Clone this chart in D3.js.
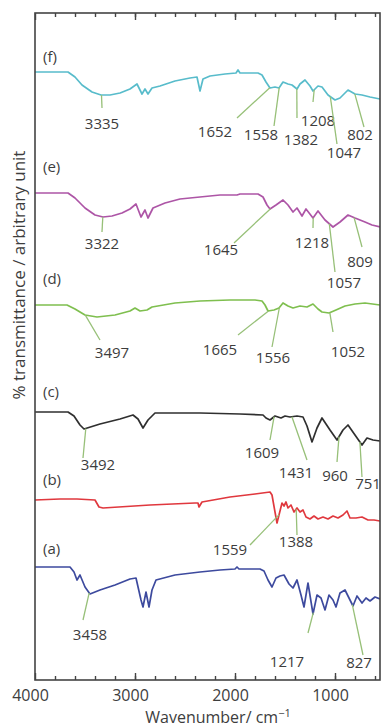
<!DOCTYPE html>
<html>
<head>
<meta charset="utf-8">
<script src="https://cdn.jsdelivr.net/npm/d3@7"></script>
<style>
  body { margin: 0; background: #fff; }
  svg { display: block; }
  text { font-family: "Open Sans", sans-serif; fill: #3d3d3d; }
</style>
</head>
<body>
<svg id="chart" width="382" height="728"></svg>
<script>
// FTIR spectra: wavenumber (cm-1) against relative transmittance (arbitrary units).
// Each spectrum is listed as [wavenumber, transmittance relative to its own baseline].

const seriesNames = ["(f)", "(e)", "(d)", "(c)", "(b)", "(a)"];
const seriesColors = ["#58bccb", "#ad55a6", "#7fbf4f", "#2f2f2f", "#e0383e", "#3d4a9e"];
const seriesOffsets = [608, 487, 375, 268, 180, 113];
const nameLevels = [10, 21, 21, 15, 15, 13];

const spectrumF = [
  [4000,0],[3670,0],[3600,-5],[3530,-13],[3430,-20],[3340,-23],[3250,-23],[3150,-21],
  [3050,-17],[2980,-12],[2930,-22],[2900,-17],[2870,-22],[2830,-16],[2750,-14],[2600,-9],
  [2450,-6],[2380,-5],[2350,-19],[2320,-7],[2250,-4],[2100,-2],[1990,-1],[1970,2],[1950,-1],
  [1770,-1],[1730,-3],[1690,-10],[1650,-16],[1600,-15],[1560,-16],[1520,-10],[1470,-12],
  [1430,-13],[1380,-17],[1350,-12],[1300,-8],[1250,-14],[1220,-19],[1170,-14],[1130,-15],
  [1070,-23],[1000,-28],[950,-26],[870,-18],[800,-22],[730,-23],[650,-25],[550,-27]
];
const spectrumE = [
  [4000,0],[3670,0],[3600,-5],[3500,-15],[3400,-22],[3320,-24],[3230,-23],[3130,-20],
  [3050,-16],[2990,-11],[2940,-24],[2900,-17],[2870,-25],[2820,-15],[2700,-10],[2550,-6],
  [2350,-4],[2150,-2],[1980,-2],[1950,-1],[1770,-1],[1720,-4],[1680,-12],[1650,-16],
  [1590,-12],[1520,-7],[1470,-12],[1420,-19],[1380,-15],[1330,-23],[1290,-16],[1220,-25],
  [1170,-18],[1100,-27],[1020,-34],[950,-29],[870,-22],[800,-25],[700,-29],[630,-32],[550,-34]
];
const spectrumD = [
  [4000,0],[3680,0],[3600,-4],[3500,-10],[3380,-12],[3200,-10],[3050,-6],[3000,-3],
  [2950,-6],[2880,-5],[2830,-2],[2600,2],[2350,4],[2050,5],[1800,5],[1730,4],[1700,0],
  [1670,-6],[1610,-5],[1560,-3],[1520,2],[1470,-1],[1420,-3],[1350,-1],[1280,-2],[1220,1],
  [1170,-4],[1130,-7],[1060,-8],[990,-5],[900,-1],[800,1],[700,2],[550,0]
];
const spectrumC = [
  [4000,0],[3670,0],[3610,-4],[3550,-13],[3510,-17],[3350,-12],[3150,-7],[3020,-3],
  [2970,-7],[2920,-16],[2870,-8],[2800,-1],[2350,-1],[1950,-2],[1720,-3],[1690,-6],
  [1650,-8],[1600,-4],[1540,-6],[1500,-4],[1450,-5],[1380,-4],[1320,-5],[1280,-14],
  [1230,-30],[1180,-16],[1130,-6],[1050,-18],[980,-28],[920,-18],[870,-13],[800,-23],
  [730,-33],[680,-26],[620,-28],[550,-29]
];
const spectrumB = [
  [4000,0],[3750,1],[3580,1],[3400,0],[3360,-7],[3320,-8],[2850,-5],[2400,-3],[2370,-3],
  [2360,-7],[2330,-2],[2050,3],[1800,6],[1650,8],[1630,5],[1600,-12],[1580,-23],[1560,-15],
  [1530,-3],[1510,-6],[1490,-2],[1470,-8],[1440,-5],[1410,-12],[1380,-8],[1350,-12],
  [1320,-10],[1290,-17],[1250,-19],[1210,-16],[1170,-19],[1120,-17],[1070,-19],[1020,-16],
  [970,-18],[920,-15],[880,-11],[850,-18],[790,-18],[730,-17],[670,-20],[610,-20],[550,-21]
];
const spectrumA = [
  [4000,0],[3650,0],[3610,-5],[3580,-13],[3550,-8],[3500,-20],[3450,-27],[3350,-23],
  [3200,-18],[3050,-12],[2990,-11],[2940,-33],[2920,-40],[2890,-25],[2860,-40],[2830,-23],
  [2790,-13],[2600,-8],[2350,-5],[2150,-3],[2000,-2],[1980,0],[1960,-2],[1750,-2],[1710,-4],
  [1670,-13],[1630,-20],[1590,-11],[1550,-9],[1510,-8],[1460,-17],[1420,-21],[1380,-13],
  [1340,-28],[1310,-40],[1270,-16],[1220,-47],[1180,-28],[1140,-31],[1100,-43],[1060,-28],
  [1020,-33],[990,-40],[950,-26],[900,-23],[860,-31],[820,-39],[780,-29],[730,-36],
  [690,-31],[650,-34],[600,-30],[550,-32]
];
const spectra = [spectrumF, spectrumE, spectrumD, spectrumC, spectrumB, spectrumA];

// Band assignments per spectrum: band wavenumber, label anchor [wn, level], leader end [wn, level]
const bandsF = [
  { wn: 3335, label: [3330, -57], end: [3330, -36] },
  { wn: 1652, label: [2200, -65], end: [1980, -46] },
  { wn: 1558, label: [1740, -68], end: [1610, -54] },
  { wn: 1382, label: [1340, -73], end: [1380, -46] },
  { wn: 1208, label: [1170, -54], end: [1220, -30] },
  { wn: 1047, label: [910, -86],  end: [980, -72] },
  { wn: 802,  label: [750, -68],  end: [710, -55] }
];
const bandsE = [
  { wn: 3322, label: [3330, -56], end: [3330, -39] },
  { wn: 1645, label: [2140, -62], end: [2010, -50] },
  { wn: 1218, label: [1230, -55], end: [1220, -35] },
  { wn: 1057, label: [910, -95],  end: [1000, -79] },
  { wn: 809,  label: [750, -74],  end: [730, -54] }
];
const bandsD = [
  { wn: 3497, label: [3230, -53], end: [3350, -35] },
  { wn: 1665, label: [2150, -50], end: [1970, -30] },
  { wn: 1556, label: [1620, -58], end: [1630, -42] },
  { wn: 1052, label: [870, -52],  end: [1020, -27] }
];
const bandsC = [
  { wn: 3492, label: [3370, -58], end: [3520, -46] },
  { wn: 1609, label: [1730, -46], end: [1650, -28] },
  { wn: 1431, label: [1390, -66], end: [1280, -48] },
  { wn: 960,  label: [1000, -69], end: [980, -50] },
  { wn: 751,  label: [670, -77],  end: [730, -65] }
];
const bandsB = [
  { wn: 1559, label: [2050, -55], end: [1850, -45] },
  { wn: 1388, label: [1390, -47], end: [1380, -35] }
];
const bandsA = [
  { wn: 3458, label: [3450, -73],  end: [3520, -53] },
  { wn: 1217, label: [1480, -100], end: [1270, -66] },
  { wn: 827,  label: [760, -101],  end: [720, -88] }
];
const bands = [bandsF, bandsE, bandsD, bandsC, bandsB, bandsA];

const majorTicks = [4000, 3000, 2000, 1000];
const minorTicks = d3.range(3800, 500, -200);

const frame = { left: 35, right: 380, top: 13, bottom: 680 };
const svg = d3.select("#chart");

const x = d3.scaleLinear().domain([4000, 550]).range([frame.left, frame.right]);
const y = d3.scaleLinear().domain([0, 667]).range([frame.bottom, frame.top]);

svg.append("defs").append("clipPath").attr("id", "plot-clip")
  .append("rect")
  .attr("x", frame.left).attr("y", frame.top)
  .attr("width", frame.right - frame.left).attr("height", frame.bottom - frame.top);

// level of a spectrum at a given wavenumber, by linear interpolation
function levelAt(spec, wn) {
  for (let i = 0; i < spec.length - 1; i++) {
    const a = spec[i], b = spec[i + 1];
    if (wn <= a[0] && wn >= b[0]) {
      const t = (a[0] - wn) / (a[0] - b[0]);
      return a[1] + t * (b[1] - a[1]);
    }
  }
  return spec[spec.length - 1][1];
}

const plot = svg.append("g").attr("clip-path", "url(#plot-clip)");

spectra.forEach((spec, i) => {
  const off = seriesOffsets[i];
  const line = d3.line().x(d => x(d[0])).y(d => y(off + d[1]));
  plot.append("path")
    .datum(spec)
    .attr("fill", "none")
    .attr("stroke", seriesColors[i])
    .attr("stroke-width", 1.7)
    .attr("stroke-linejoin", "round")
    .attr("d", line);
});

// leaders and band labels
const notes = svg.append("g");
bands.forEach((list, i) => {
  const off = seriesOffsets[i];
  list.forEach(b => {
    notes.append("line")
      .attr("x1", x(b.wn)).attr("y1", y(off + levelAt(spectra[i], b.wn)))
      .attr("x2", x(b.end[0])).attr("y2", y(off + b.end[1]))
      .attr("stroke", "#97c078").attr("stroke-width", 1.3);
    notes.append("text")
      .attr("x", x(b.label[0])).attr("y", y(off + b.label[1]))
      .attr("text-anchor", "middle")
      .attr("font-size", 15)
      .text(b.wn);
  });
  svg.append("text")
    .attr("x", frame.left + 8).attr("y", y(off + nameLevels[i]))
    .attr("font-size", 15)
    .text(seriesNames[i]);
});

// frame
svg.append("rect")
  .attr("x", frame.left).attr("y", frame.top)
  .attr("width", frame.right - frame.left).attr("height", frame.bottom - frame.top)
  .attr("fill", "none").attr("stroke", "#444").attr("stroke-width", 1.6);

// axes with inward ticks on both top and bottom
const bottomAxis = d3.axisBottom(x).tickValues(majorTicks).tickSize(-7).tickPadding(10).tickFormat(d3.format("d"));
const gB = svg.append("g").attr("transform", `translate(0,${frame.bottom})`).call(bottomAxis);
gB.select(".domain").remove();
gB.selectAll("line").attr("stroke", "#444").attr("stroke-width", 1.4);
gB.selectAll("text").attr("font-size", 16).attr("dx", -5).style("font-family", "Open Sans").attr("fill", "#3d3d3d");

const gBm = svg.append("g").attr("transform", `translate(0,${frame.bottom})`)
  .call(d3.axisBottom(x).tickValues(minorTicks).tickSize(-4).tickFormat(""));
gBm.select(".domain").remove();
gBm.selectAll("line").attr("stroke", "#444").attr("stroke-width", 1.4);

const gT = svg.append("g").attr("transform", `translate(0,${frame.top})`)
  .call(d3.axisTop(x).tickValues(majorTicks).tickSize(-7).tickFormat(""));
gT.select(".domain").remove();
gT.selectAll("line").attr("stroke", "#444").attr("stroke-width", 1.4);
const gTm = svg.append("g").attr("transform", `translate(0,${frame.top})`)
  .call(d3.axisTop(x).tickValues(minorTicks).tickSize(-4).tickFormat(""));
gTm.select(".domain").remove();
gTm.selectAll("line").attr("stroke", "#444").attr("stroke-width", 1.4);

// axis titles
const xt = svg.append("text")
  .attr("x", 218).attr("y", 723)
  .attr("text-anchor", "middle").attr("font-size", 16);
xt.append("tspan").text("Wavenumber/ cm");
xt.append("tspan").attr("dy", -6).attr("font-size", 11).text("\u22121");

svg.append("text")
  .attr("transform", "translate(25,275) rotate(-90)")
  .attr("text-anchor", "middle").attr("font-size", 17)
  .text("% transmittance / arbitrary unit");
</script>
</body>
</html>
